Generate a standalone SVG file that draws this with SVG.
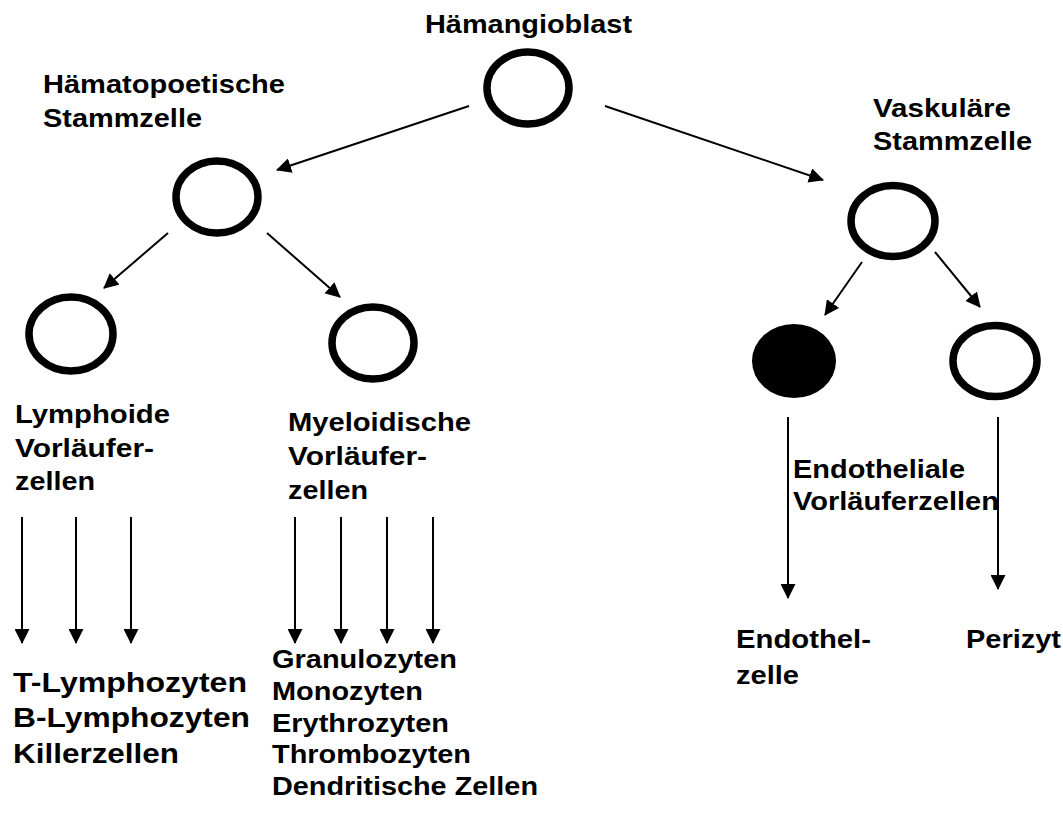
<svg xmlns="http://www.w3.org/2000/svg" width="1063" height="818" viewBox="0 0 1063 818">
<defs>
<marker id="ah" markerWidth="15" markerHeight="15" refX="14" refY="7.5" orient="auto" markerUnits="userSpaceOnUse">
<path d="M0,0 L15,7.5 L0,15 z" fill="#000"/>
</marker>
<style>
.cell{fill:#fff;stroke:#000;stroke-width:7.5}
.solid{fill:#000;stroke:none}
.lbl{font-family:"Liberation Sans",Arial,sans-serif;font-weight:bold;font-size:25px;fill:#000}
.big{font-size:27.5px}
.conn line{stroke:#000;stroke-width:2;marker-end:url(#ah)}
</style>
</defs>
<rect width="1063" height="818" fill="#fff"/>
<g class="conn" id="connectors">
<line x1="469" y1="106" x2="277" y2="170"/>
<line x1="605" y1="106" x2="823" y2="180"/>
<line x1="168" y1="233" x2="104" y2="288"/>
<line x1="267" y1="233" x2="340" y2="297"/>
<line x1="862" y1="262" x2="825" y2="315"/>
<line x1="935" y1="252" x2="980" y2="307"/>
<line x1="22" y1="517" x2="22" y2="643"/>
<line x1="76" y1="517" x2="76" y2="643"/>
<line x1="131" y1="517" x2="131" y2="643"/>
<line x1="295" y1="517" x2="295" y2="643"/>
<line x1="341" y1="517" x2="341" y2="643"/>
<line x1="387" y1="517" x2="387" y2="643"/>
<line x1="433" y1="517" x2="433" y2="643"/>
<line x1="788" y1="417" x2="788" y2="598"/>
<line x1="998" y1="417" x2="998" y2="589"/>
</g>
<g id="haemangioblast">
<ellipse class="cell" cx="528" cy="88" rx="41" ry="36"/>
<text class="lbl" x="425" y="33" textLength="207" lengthAdjust="spacingAndGlyphs">Hämangioblast</text>
</g>
<g id="haematopoetische">
<ellipse class="cell" cx="217" cy="197" rx="41" ry="36"/>
<text class="lbl" x="43" y="93" textLength="242" lengthAdjust="spacingAndGlyphs">Hämatopoetische</text>
<text class="lbl" x="43" y="127" textLength="159" lengthAdjust="spacingAndGlyphs">Stammzelle</text>
</g>
<g id="vaskulaere">
<ellipse class="cell" cx="893" cy="221" rx="42" ry="35.5"/>
<text class="lbl" x="873" y="117" textLength="138" lengthAdjust="spacingAndGlyphs">Vaskuläre</text>
<text class="lbl" x="873" y="150" textLength="159" lengthAdjust="spacingAndGlyphs">Stammzelle</text>
</g>
<g id="lymphoide">
<ellipse class="cell" cx="71" cy="334" rx="42" ry="37"/>
<text class="lbl" x="15" y="423" textLength="155" lengthAdjust="spacingAndGlyphs">Lymphoide</text>
<text class="lbl" x="15" y="457" textLength="139" lengthAdjust="spacingAndGlyphs">Vorläufer-</text>
<text class="lbl" x="15" y="490" textLength="80" lengthAdjust="spacingAndGlyphs">zellen</text>
</g>
<g id="myeloid">
<ellipse class="cell" cx="373" cy="343" rx="41" ry="36"/>
<text class="lbl" x="288" y="431" textLength="183" lengthAdjust="spacingAndGlyphs">Myeloidische</text>
<text class="lbl" x="288" y="465" textLength="139" lengthAdjust="spacingAndGlyphs">Vorläufer-</text>
<text class="lbl" x="288" y="499" textLength="80" lengthAdjust="spacingAndGlyphs">zellen</text>
</g>
<g id="endothel-vorlaeufer">
<ellipse class="solid" cx="794" cy="361" rx="42" ry="37"/>
<text class="lbl" x="793" y="478" textLength="172" lengthAdjust="spacingAndGlyphs">Endotheliale</text>
<text class="lbl" x="793" y="510" textLength="206" lengthAdjust="spacingAndGlyphs">Vorläuferzellen</text>
</g>
<g id="perizyt-vorlaeufer">
<ellipse class="cell" cx="995" cy="361" rx="42" ry="35.5"/>
</g>
<g id="lymph-products">
<text class="lbl big" x="13" y="692" textLength="234" lengthAdjust="spacingAndGlyphs">T-Lymphozyten</text>
<text class="lbl big" x="13" y="727" textLength="237" lengthAdjust="spacingAndGlyphs">B-Lymphozyten</text>
<text class="lbl big" x="13" y="763" textLength="166" lengthAdjust="spacingAndGlyphs">Killerzellen</text>
</g>
<g id="myeloid-products">
<text class="lbl" x="272" y="668" textLength="185" lengthAdjust="spacingAndGlyphs">Granulozyten</text>
<text class="lbl" x="272" y="700" textLength="151" lengthAdjust="spacingAndGlyphs">Monozyten</text>
<text class="lbl" x="272" y="732" textLength="177" lengthAdjust="spacingAndGlyphs">Erythrozyten</text>
<text class="lbl" x="272" y="763" textLength="199" lengthAdjust="spacingAndGlyphs">Thrombozyten</text>
<text class="lbl" x="272" y="795" textLength="266" lengthAdjust="spacingAndGlyphs">Dendritische Zellen</text>
</g>
<g id="endothelzelle">
<text class="lbl" x="736" y="648" textLength="135" lengthAdjust="spacingAndGlyphs">Endothel-</text>
<text class="lbl" x="736" y="684" textLength="63" lengthAdjust="spacingAndGlyphs">zelle</text>
</g>
<g id="perizyt">
<text class="lbl" x="966" y="648" textLength="95" lengthAdjust="spacingAndGlyphs">Perizyt</text>
</g>
</svg>
